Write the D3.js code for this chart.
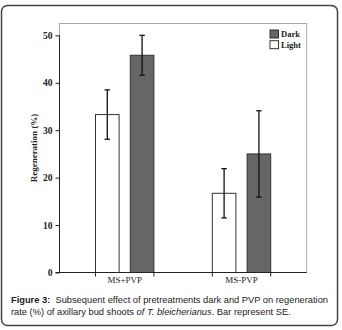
<!DOCTYPE html>
<html><head><meta charset="utf-8">
<script src="https://cdn.jsdelivr.net/npm/d3@7"></script>
<style>html,body{margin:0;padding:0;background:#fff;}</style>
</head><body>
<script>
const categories = ["MS+PVP", "MS-PVP"];
const seriesNames = ["Light", "Dark"];
const lightValues = [33.3, 16.7];
const darkValues = [45.8, 25.0];
const lightSE = [5.2, 5.2];
const darkSE = [4.2, 9.1];
const yTicks = [0, 10, 20, 30, 40, 50];
const legendOrder = ["Dark", "Light"];
const colors = {Light: "#ffffff", Dark: "#666666"};

const W = 342, H = 330;
const svg = d3.select("body").append("svg").attr("width", W).attr("height", H);

svg.append("rect").attr("x", 1.5).attr("y", 5.5).attr("width", 336).attr("height", 320)
  .attr("rx", 6).attr("fill", "#fff").attr("stroke", "#444").attr("stroke-width", 1.5);

const L = 59.5, R = 306.7, T = 23.5, B = 272.5;
const x0 = d3.scaleBand().domain(categories).range([L, R]).paddingInner(0.5).paddingOuter(0.308);
const x1 = d3.scaleBand().domain(seriesNames).range([0, x0.bandwidth()]).paddingInner(0.322);
const y = d3.scaleLinear().domain([0, 52.5]).range([B, T]);

// frame
svg.append("rect").attr("x", L).attr("y", T).attr("width", R - L).attr("height", B - T)
  .attr("fill", "none").attr("stroke", "#aaa").attr("stroke-width", 1);

const data = categories.map((c, i) => ({
  cat: c,
  bars: [
    {s: "Light", v: lightValues[i], se: lightSE[i]},
    {s: "Dark", v: darkValues[i], se: darkSE[i]}
  ]
}));

const g = svg.selectAll("g.grp").data(data).join("g").attr("class", "grp")
  .attr("transform", d => `translate(${x0(d.cat)},0)`);
g.selectAll("rect").data(d => d.bars).join("rect")
  .attr("x", d => x1(d.s)).attr("y", d => y(d.v))
  .attr("width", x1.bandwidth()).attr("height", d => B - y(d.v))
  .attr("fill", d => colors[d.s]).attr("stroke", "#333").attr("stroke-width", 1);

// error bars
const eb = g.selectAll("g.eb").data(d => d.bars).join("g").attr("class", "eb");
eb.append("line")
  .attr("x1", d => x1(d.s) + x1.bandwidth() / 2).attr("x2", d => x1(d.s) + x1.bandwidth() / 2)
  .attr("y1", d => y(d.v + d.se)).attr("y2", d => y(d.v - d.se))
  .attr("stroke", "#111").attr("stroke-width", 1.3);
[1, -1].forEach(sg => {
  eb.append("line")
    .attr("x1", d => x1(d.s) + x1.bandwidth() / 2 - 2.7).attr("x2", d => x1(d.s) + x1.bandwidth() / 2 + 2.7)
    .attr("y1", d => y(d.v + sg * d.se)).attr("y2", d => y(d.v + sg * d.se))
    .attr("stroke", "#111").attr("stroke-width", 1.3);
});

// y axis
const ya = svg.append("g").attr("transform", `translate(${L},0)`)
  .call(d3.axisLeft(y).tickValues(yTicks).tickSize(4).tickPadding(3).tickFormat(d3.format("d")));
ya.select(".domain").attr("stroke", "#222").attr("d", `M0,${B}V${y(50)}`);
ya.selectAll(".tick line").attr("stroke", "#222");
ya.selectAll("text").attr("font-family", "Liberation Serif, Times New Roman, serif")
  .attr("font-size", 9.5).attr("font-weight", "bold").attr("fill", "#222");

// x axis
const xa = svg.append("g").attr("transform", `translate(0,${B})`);
xa.append("line").attr("x1", L - 4).attr("x2", R).attr("y1", 0).attr("y2", 0)
  .attr("stroke", "#222").attr("stroke-width", 1);
categories.forEach(c => {
  [x0(c), x0(c) + x0.bandwidth()].forEach(xx => {
    xa.append("line").attr("x1", xx).attr("x2", xx).attr("y1", 0).attr("y2", 4)
      .attr("stroke", "#222");
  });
  xa.append("text").attr("x", x0(c) + x0.bandwidth() / 2).attr("y", 10.5)
    .attr("text-anchor", "middle").attr("font-family", "Liberation Serif, Times New Roman, serif")
    .attr("font-size", 9).attr("fill", "#222").text(c);
});

// y title
svg.append("text").attr("transform", `translate(37,148) rotate(-90)`)
  .attr("text-anchor", "middle").attr("font-family", "Liberation Serif, Times New Roman, serif")
  .attr("font-size", 9).attr("font-weight", "bold").attr("fill", "#222").text("Regeneration (%)");

// legend
const lg = svg.append("g");
legendOrder.forEach((s, i) => {
  lg.append("rect").attr("x", 270).attr("y", 30 + i * 10.7).attr("width", 8.5).attr("height", 8)
    .attr("fill", colors[s]).attr("stroke", "#333").attr("stroke-width", 1);
  lg.append("text").attr("x", 281).attr("y", 37 + i * 10.7)
    .attr("font-family", "Liberation Serif, Times New Roman, serif").attr("font-size", 8.5)
    .attr("font-weight", "bold").attr("fill", "#222").text(s);
});

// caption
const cap = svg.append("text").attr("font-family", "Liberation Sans, Arial, sans-serif")
  .attr("font-size", 9.3).attr("fill", "#222");
const l1 = cap.append("tspan").attr("x", 11).attr("y", 303);
l1.append("tspan").attr("font-weight", "bold").text("Figure 3:");
l1.append("tspan").attr("xml:space", "preserve").text("\u00a0 Subsequent effect of pretreatments dark and PVP on regeneration");
const l2 = cap.append("tspan").attr("x", 11).attr("y", 315);
l2.append("tspan").text("rate (%) of axillary bud shoots ");
l2.append("tspan").attr("font-style", "italic").text("of T. bleicherianus");
l2.append("tspan").text(". Bar represent SE.");
</script>
</body></html>
